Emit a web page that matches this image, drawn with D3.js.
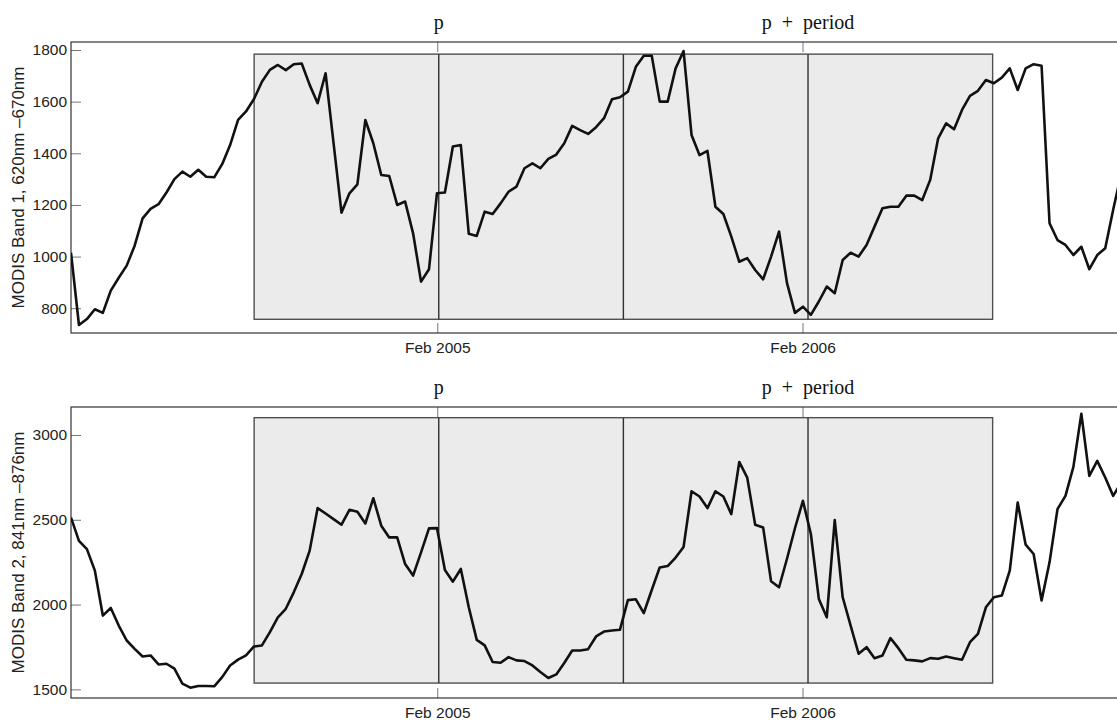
<!DOCTYPE html>
<html><head><meta charset="utf-8">
<script src="https://cdn.jsdelivr.net/npm/d3@7"></script>
<style>html,body{margin:0;padding:0;background:#fff;overflow:hidden}</style>
</head><body><svg id="chart" width="1117" height="720"></svg>
<script>
// ---- data ----
const startDate = new Date(2004, 1, 1);
const stepDays = 7.95;
const band1 = [1015, 735, 758, 796, 782, 868, 918, 965, 1042, 1148,
  1185, 1203, 1248, 1300, 1329, 1309, 1336, 1309, 1307, 1358,
  1432, 1529, 1562, 1610, 1677, 1723, 1742, 1722, 1745, 1748,
  1665, 1594, 1710, 1440, 1170, 1245, 1280, 1529, 1439, 1316,
  1312, 1200, 1213, 1090, 903, 951, 1245, 1248, 1426, 1432,
  1088, 1080, 1174, 1165, 1206, 1251, 1271, 1342, 1361, 1342,
  1378, 1395, 1439, 1506, 1490, 1475, 1501, 1536, 1609, 1617,
  1639, 1735, 1778, 1778, 1600, 1600, 1729, 1796, 1471, 1393,
  1409, 1193, 1165, 1077, 980, 994, 948, 912, 1000, 1097,
  897, 782, 806, 774, 826, 884, 858, 987, 1015, 1000,
  1045, 1116, 1187, 1193, 1193, 1236, 1236, 1219, 1297, 1458,
  1516, 1493, 1568, 1622, 1642, 1684, 1671, 1693, 1729, 1645,
  1729, 1745, 1739, 1129, 1064, 1045, 1006, 1038, 951, 1006,
  1032, 1181, 1320];
const band2 = [2513, 2376, 2327, 2200, 1935, 1980, 1876, 1788, 1739, 1694,
  1700, 1647, 1651, 1622, 1534, 1510, 1520, 1520, 1518, 1572,
  1641, 1675, 1700, 1753, 1759, 1837, 1925, 1975, 2072, 2180,
  2318, 2569, 2537, 2504, 2471, 2559, 2547, 2478, 2627, 2465,
  2396, 2396, 2239, 2171, 2308, 2449, 2451, 2204, 2135, 2210,
  1984, 1792, 1759, 1661, 1657, 1690, 1671, 1667, 1641, 1602,
  1567, 1588, 1655, 1729, 1729, 1737, 1812, 1841, 1847, 1851,
  2026, 2031, 1950, 2086, 2219, 2227, 2277, 2340, 2668, 2637,
  2569, 2668, 2637, 2533, 2841, 2749, 2471, 2455, 2137, 2102,
  2270, 2450, 2612, 2416, 2033, 1925, 2498, 2043, 1876, 1710,
  1749, 1684, 1700, 1802, 1743, 1675, 1671, 1665, 1684, 1680,
  1694, 1684, 1675, 1778, 1827, 1984, 2043, 2053, 2200, 2602,
  2353, 2298, 2024, 2249, 2563, 2641, 2812, 3125, 2759, 2847,
  2749, 2641, 2720];
const band1Ticks = [800, 1000, 1200, 1400, 1600, 1800];
const band2Ticks = [1500, 2000, 2500, 3000];
const band1Limits = [704, 1831];
const band2Limits = [1449, 3165];
const band1Box = [757, 1784];
const band2Box = [1537, 3102];
const xTickDates = [new Date(2005, 1, 1), new Date(2006, 1, 1)];
const xEndDate = new Date(2007, 1, 1);
const pDate = new Date(2005, 1, 2, 12);
const periodDays = 369;
const markerLabels = ["p", "p + period"];
const yLabels = ["MODIS Band 1, 620nm \u2013670nm", "MODIS Band 2, 841nm \u2013876nm"];

// ---- drawing ----
const DAY = 86400000;
const svg = d3.select("#chart");
const left = 71;
const x = d3.scaleTime().domain([startDate, xEndDate])
  .range([left, left + ((xEndDate - startDate) / DAY) * 1.0007]);
const dateAt = i => new Date(startDate.getTime() + i * stepDays * DAY);
const shift = (d, days) => new Date(d.getTime() + days * DAY);

const panels = [
  {values: band1, ticks: band1Ticks, limits: band1Limits, box: band1Box, label: yLabels[0], top: 42, bottom: 333},
  {values: band2, ticks: band2Ticks, limits: band2Limits, box: band2Box, label: yLabels[1], top: 407, bottom: 698}
];

const boxStart = shift(pDate, -periodDays / 2);
const boxEnd = shift(pDate, periodDays * 1.5);
const markers = [pDate, shift(pDate, periodDays / 2), shift(pDate, periodDays)];
const titled = [pDate, shift(pDate, periodDays)];
const right = x.range()[1];

panels.forEach((P, k) => {
  const y = d3.scaleLinear().domain(P.limits).range([P.bottom, P.top]);
  const g = svg.append("g");
  const clipId = "clip" + k;
  svg.append("clipPath").attr("id", clipId).append("rect")
    .attr("x", left).attr("y", P.top).attr("width", right - left).attr("height", P.bottom - P.top);

  // shaded window
  g.append("rect")
    .attr("x", x(boxStart)).attr("y", y(P.box[1]))
    .attr("width", x(boxEnd) - x(boxStart)).attr("height", y(P.box[0]) - y(P.box[1]))
    .attr("fill", "#ebebeb").attr("stroke", "#505050").attr("stroke-width", 1.4);

  g.selectAll("line.marker").data(markers).enter().append("line")
    .attr("class", "marker")
    .attr("x1", d => x(d)).attr("x2", d => x(d))
    .attr("y1", y(P.box[1])).attr("y2", y(P.box[0]))
    .attr("stroke", "#303030").attr("stroke-width", 1.4);

  // y axis (ticks inside)
  const ya = g.append("g").attr("transform", `translate(${left},0)`)
    .call(d3.axisLeft(y).tickValues(P.ticks).tickSizeInner(-10).tickSizeOuter(0).tickPadding(4).tickFormat(d3.format("d")));
  ya.select(".domain").remove();
  ya.selectAll("line").attr("stroke", "#777");
  ya.selectAll("text").attr("font-family", "Liberation Sans, Arial, sans-serif")
    .attr("font-size", 15.5).attr("fill", "#222");

  // x axis bottom (ticks inside)
  const xb = g.append("g").attr("transform", `translate(0,${P.bottom})`)
    .call(d3.axisBottom(x).tickValues(xTickDates).tickSizeInner(-10).tickSizeOuter(0).tickPadding(0).tickFormat(d3.timeFormat("%b %Y")));
  xb.select(".domain").remove();
  xb.selectAll("line").attr("stroke", "#777");
  xb.selectAll("text").attr("font-family", "Liberation Sans, Arial, sans-serif")
    .attr("font-size", 15.5).attr("fill", "#222").attr("dy", null).attr("y", 20);

  const xt = g.append("g").attr("transform", `translate(0,${P.top})`)
    .call(d3.axisTop(x).tickValues(xTickDates).tickSizeInner(-10).tickSizeOuter(0).tickFormat(""));
  xt.select(".domain").remove();
  xt.selectAll("line").attr("stroke", "#777");

  // frame
  g.append("rect").attr("x", left).attr("y", P.top)
    .attr("width", right - left).attr("height", P.bottom - P.top)
    .attr("fill", "none").attr("stroke", "#333").attr("stroke-width", 1.2);

  // data line
  const line = d3.line().x((d, i) => x(dateAt(i))).y(d => y(d));
  g.append("path").datum(P.values).attr("d", line)
    .attr("clip-path", `url(#${clipId})`)
    .attr("fill", "none").attr("stroke", "#111").attr("stroke-width", 2.6)
    .attr("stroke-linejoin", "round");

  // marker titles
  g.selectAll("text.title").data(titled).enter().append("text")
    .attr("class", "title")
    .attr("x", d => x(d)).attr("y", P.top - 13.5)
    .attr("text-anchor", "middle")
    .attr("font-family", "Liberation Serif, Times New Roman, serif")
    .attr("font-size", 20).attr("word-spacing", 5).attr("fill", "#111")
    .text((d, i) => markerLabels[i]);

  // y label
  g.append("text")
    .attr("transform", `translate(24,${(P.top + P.bottom) / 2}) rotate(-90)`)
    .attr("text-anchor", "middle")
    .attr("font-family", "Liberation Sans, Arial, sans-serif")
    .attr("font-size", 17).attr("fill", "#222")
    .text(P.label);
});
</script>
</body></html>
